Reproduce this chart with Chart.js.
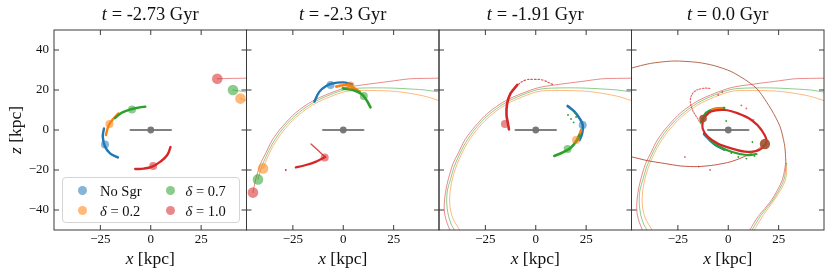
<!DOCTYPE html>
<html>
<head>
<meta charset="utf-8">
<script src="https://cdn.jsdelivr.net/npm/chart.js@4.4.1/dist/chart.umd.min.js"></script>
<style>
  body { margin: 0; width: 831px; height: 274px; overflow: hidden; position: relative; background: #fff;
         font-family: "Liberation Serif", "DejaVu Serif", serif; color: #111; }
  canvas { position: absolute; left: 0; top: 0; }
  .ttl, .xl { position: absolute; text-align: center; white-space: nowrap; line-height: 20px; }
  .ttl { top: 4px; font-size: 18.5px; }
  .xl { top: 248px; font-size: 17.5px; }
  .yl { position: absolute; left: -35px; top: 120px; width: 100px; line-height: 20px; text-align: center;
        font-size: 17.5px; transform: rotate(-90deg); }
  .legend { position: absolute; left: 62px; top: 177px; width: 176px; height: 44px; border: 1px solid #d4d4d4;
            border-radius: 4px; background: rgba(255,255,255,0.85); }
  .li { position: absolute; font-size: 14.5px; line-height: 16px; white-space: nowrap; }
  .dot { position: absolute; width: 9px; height: 9px; border-radius: 50%; }
</style>
</head>
<body>
<script>
// panel layout (px) and axis limits
const PANEL_LEFT = [54, 246.5, 439, 631.5];
const PANEL_W = 192.5;
const X_LIM = [-48, 47.5];
const Y_LIM = [-50, 50];
const X_TICKS = [-25, 0, 25];
const Y_TICKS = [-40, -20, 0, 20, 40];
const TIMES = ['-2.73', '-2.3', '-1.91', '0.0'];

const BLUE = '#1f77b4', ORANGE = '#ff7f0e', GREEN = '#2ca02c', RED = '#d62728';

// Milky Way disk
const DISK = [[-10, 0], [10, 0]];
const CENTER = [[0, 0]];

// Sgr orbits, pieces travelled up to each snapshot
const RED_ORBIT_1 = [[53, 26], [47.5, 25.9], [40, 25.8], [33, 25.6]];
const RED_ORBIT_2 = [[23, 24.3], [10, 22.6], [1.5, 21.2], [-6.8, 18.3], [-15.2, 14.5], [-23.5, 8.7], [-30.2, 1.7],
                     [-35.2, -5], [-38.5, -11.7], [-41, -16.7], [-43.5, -25], [-44.8, -31.3]];
const RED_ORBIT_3 = [[-45.4, -37], [-45.2, -42], [-44, -46.5], [-42.6, -50], [-41.5, -53]];
const RED_ORBIT_4 = [[8.5, -54], [10.7, -50], [14.8, -43.3], [21.5, -35], [26.8, -25], [28.5, -16.7]];

const GREEN_ORBIT_1 = [[53, 18.6], [47.5, 19], [40.8, 20]];
const GREEN_ORBIT_2 = [[35, 20.4], [23, 21], [10, 21], [1.5, 20.3], [-6.8, 17.5], [-15.2, 13.5], [-23.5, 7.5],
                       [-30.1, 0.5], [-34.9, -6.5], [-38.2, -13], [-40.7, -19], [-42.3, -24.7]];
const GREEN_ORBIT_3 = [[-43.8, -30], [-44.2, -36], [-43.5, -42], [-42, -47], [-40, -50.5], [-38.5, -53]];
const GREEN_ORBIT_4 = [[9.5, -54], [11.8, -50], [16, -43], [22.5, -34.5], [27.6, -25], [28.7, -16.7]];

const ORANGE_ORBIT_1 = [[53, 14], [47.5, 14.7], [44.5, 15.7]];
const ORANGE_ORBIT_2 = [[40, 17], [30, 18.8], [23, 19.5], [10, 19.8], [1.5, 19.3], [-6.8, 16.5], [-15.2, 12.5],
                        [-23.5, 6.3], [-30, -0.8], [-34.5, -7.5], [-37.5, -13.5], [-39.8, -19.2]];
const ORANGE_ORBIT_3 = [[-41.5, -25], [-42.6, -32], [-42.6, -38], [-41.2, -44], [-39, -48], [-37.5, -50.5], [-36, -53]];
const ORANGE_ORBIT_4 = [[10.5, -54], [12.9, -50], [17.2, -42.8], [23.5, -34], [28.4, -25], [29, -16.7]];

// recent orbit, same for every delta
const LATE_ORBIT_1 = [[28.6, -16.7], [28.3, -11], [27.8, -6.7], [25.7, 1.7], [21.5, 10], [14.8, 20], [9.8, 24.2],
                      [1.5, 29.2], [-7, 32.2], [-15.2, 33.8], [-26.8, 34.5], [-38.5, 33.3], [-48.5, 30.8], [-53, 29]];
const LATE_ORBIT_2 = [[-53, -12.5], [-48.5, -13.3], [-40.2, -15.3], [-31.8, -16.7], [-23.5, -18], [-15.2, -18.3],
                      [-6.8, -17.5], [1.5, -15.8], [9.8, -12.5], [14.8, -9.5], [18.2, -7]];

// Sgr position per snapshot [orange, green, red]
const SGR_POS = [
  [[44.5, 15.7], [40.8, 20], [33, 25.6]],
  [[-39.8, -19.2], [-42.3, -24.7], [-44.8, -31.3]],
  null,
  [[18.2, -7]]
];

// stream particles, snapshot 1
const S1_BLUE = [[-23.2, 0.8], [-23.8, -3.3], [-22.7, -8.3], [-20.2, -11.7], [-16.3, -13.7]];
const S1_ORANGE = [[-22.2, -2.5], [-21.5, 0.5], [-20.5, 3], [-18.8, 5.3], [-16, 8.3]];
const S1_GREEN = [[-17.7, 6], [-14.3, 8.7], [-9.3, 10.5], [-5.5, 11.3], [-2.7, 11.7]];
const S1_RED = [[9.8, -8.5], [8.2, -12.5], [4.8, -15.8], [0.7, -18.3], [-3.5, -19.3], [-7.7, -19.5]];
const S1_MARK = [[-22.7, -7.2], [-20.5, 3], [-9.3, 10.3], [1.2, -18]];

// snapshot 2
const S2_BLUE = [[-14.3, 14.2], [-11.8, 19.2], [-8.5, 22], [-5.2, 23.3], [-0.2, 23.8], [4.5, 22.8]];
const S2_ORANGE = [[-3.5, 21.7], [1.5, 22.5], [4.8, 21.3], [8.2, 19.2]];
const S2_GREEN = [[-0.2, 20.8], [4.8, 20], [9, 18], [11.5, 15], [13.5, 11.3]];
const S2_RED_ARM = [[-16, -7], [-12.7, -10], [-9, -13.5]];
const S2_RED = [[-9, -13.5], [-13.5, -15.8], [-18.5, -17.5], [-23.5, -18.7]];
const S2_RED_DOTS = [[-28.5, -20]];
const S2_MARK = [[-6.3, 22.5], [3.5, 22.2], [10.2, 17], [-9.2, -13.7]];

// snapshot 3
const S3_BLUE = [[15.8, 12], [19.2, 9.2], [21.7, 5.8], [23.3, 2.5], [23, -1.7], [21.7, -5]];
const S3_ORANGE = [[22.5, 0], [21.3, -3.3], [20, -5.8]];
const S3_GREEN = [[21.7, -2.5], [20, -5.8], [17.5, -8.7], [14.2, -10.8], [9.2, -13]];
const S3_RED_TAIL = [[8.3, 22.8], [3.3, 25], [-0.8, 25.3], [-5, 25], [-9.2, 22.5]];
const S3_RED = [[-9.2, 22.5], [-12.5, 18.3], [-14.2, 13.3], [-14.5, 7.5], [-13.8, 3.3], [-13.3, 0.3]];
const S3_MARK = [[23.3, 2.5], [20, -5], [15.8, -9.5], [-15.3, 3]];
const S3_GREEN_DOTS = [[17.5, 5.5], [16, 7.5], [18.8, 3.8], [20, 6.5], [19.5, 8.5]];

// snapshot 4
const S4_RED = [[-12.5, 5.7], [-8.5, 9.2], [-1.8, 10], [4.8, 8.3], [11.5, 5], [16.5, 0], [19, -5.8], [14.8, -10.3],
                [8.2, -10.8], [1.5, -9.2], [-5.2, -6.7], [-10.2, -3.3], [-12.7, 0.8], [-12.5, 5.7]];
const S4_GREEN_TOP = [[-13.5, 4], [-11, 8.5], [-7, 10.5], [-2, 11]];
const S4_GREEN_BOTTOM = [[-11, -3], [-5, -8], [2, -11], [9, -12.5], [14, -12]];
const S4_BLUE = [[-12, -2], [-7, -7], [-2, -9.8]];
const S4_ORANGE = [[-8, 10.2], [-3, 11]];
const S4_RED_LOOP = [[-13.5, 3], [-16, 7], [-17.7, 10], [-18.8, 15], [-16.8, 19.2], [-12.7, 20.8], [-8.5, 20.8]];
const S4_MARK = [[-12.5, 5.7]];
const S4_GREEN_DOTS = [[1.5, -11.5], [5, -13.5], [9, -14.3], [11.5, -11], [12, -6], [-1, 4.5], [13, -13]];
const S4_RED_DOTS = [[-21.5, -13.5], [-14.7, -18.3], [-9, -20], [6.5, 12.3], [9, 10.8], [-3, 19], [-5, 17.5], [12.5, 5]];

const pts = arr => arr.map(([x, y]) => ({ x, y }));
const alpha = (hex, a) => hex + Math.round(a * 255).toString(16).padStart(2, '0');

function line(arr, color, width, extra) {
  return Object.assign({ data: pts(arr), showLine: true, borderColor: color, borderWidth: width,
    pointRadius: 0, tension: 0.4, borderCapStyle: 'round', fill: false, clip: 0 }, extra || {});
}
function dots(arr, color, r) {
  return { data: pts(arr), showLine: false, pointRadius: r, pointBackgroundColor: color,
    pointBorderWidth: 0, clip: 12 };
}

function panelDatasets(i) {
  const ds = [];
  // orbits
  const orb = [
    [ORANGE_ORBIT_1, ORANGE_ORBIT_2, ORANGE_ORBIT_3, ORANGE_ORBIT_4, ORANGE],
    [GREEN_ORBIT_1, GREEN_ORBIT_2, GREEN_ORBIT_3, GREEN_ORBIT_4, GREEN],
    [RED_ORBIT_1, RED_ORBIT_2, RED_ORBIT_3, RED_ORBIT_4, RED]
  ];
  orb.forEach(o => {
    const past = [].concat(...o.slice(0, Math.min(i, 2) + 1));
    ds.push(line(past, alpha(o[4], 0.6), 0.9, { tension: 0.3 }));
    if (i === 3) ds.push(line(o[3], alpha(o[4], 0.6), 0.9, { tension: 0.3 }));
  });
  if (i === 3) {
    ds.push(line(LATE_ORBIT_1, 'rgba(170,80,45,0.85)', 1, { tension: 0.25 }));
    ds.push(line(LATE_ORBIT_2, 'rgba(185,60,40,0.85)', 1, { tension: 0.25 }));
  }
  // streams
  if (i === 0) {
    ds.push(line(S1_BLUE, BLUE, 2.4), line(S1_ORANGE, ORANGE, 2.4), line(S1_GREEN, GREEN, 2.4), line(S1_RED, RED, 2.4));
    ds.push(dots(S1_MARK.slice(0, 1), alpha(BLUE, 0.55), 4), dots(S1_MARK.slice(1, 2), alpha(ORANGE, 0.55), 4),
            dots(S1_MARK.slice(2, 3), alpha(GREEN, 0.55), 4), dots(S1_MARK.slice(3, 4), alpha(RED, 0.55), 4));
  } else if (i === 1) {
    ds.push(line(S2_BLUE, BLUE, 2.4), line(S2_ORANGE, ORANGE, 2.6), line(S2_GREEN, GREEN, 2.6));
    ds.push(line(S2_RED_ARM, alpha(RED, 0.85), 1.3, { tension: 0.2 }), line(S2_RED, RED, 2.3, { tension: 0.2 }));
    ds.push(dots(S2_RED_DOTS, RED, 0.9));
    ds.push(dots(S2_MARK.slice(0, 1), alpha(BLUE, 0.55), 4), dots(S2_MARK.slice(1, 2), alpha(ORANGE, 0.55), 4),
            dots(S2_MARK.slice(2, 3), alpha(GREEN, 0.55), 4), dots(S2_MARK.slice(3, 4), alpha(RED, 0.55), 4));
  } else if (i === 2) {
    ds.push(line(S3_RED_TAIL, alpha(RED, 0.8), 1.2, { borderDash: [1.5, 2] }));
    ds.push(line(S3_BLUE, BLUE, 2.6), line(S3_ORANGE, ORANGE, 2.6), line(S3_GREEN, GREEN, 2.6), line(S3_RED, RED, 2.6));
    ds.push(dots(S3_GREEN_DOTS, GREEN, 0.9));
    ds.push(dots(S3_MARK.slice(0, 1), alpha(BLUE, 0.55), 4), dots(S3_MARK.slice(1, 2), alpha(ORANGE, 0.55), 4),
            dots(S3_MARK.slice(2, 3), alpha(GREEN, 0.55), 4), dots(S3_MARK.slice(3, 4), alpha(RED, 0.55), 4));
  } else {
    ds.push(line(S4_RED_LOOP, alpha(RED, 0.7), 1.1, { borderDash: [1.5, 1.5] }));
    ds.push(line(S4_BLUE, BLUE, 2.6), line(S4_GREEN_TOP, GREEN, 2.6), line(S4_GREEN_BOTTOM, GREEN, 2.2),
            line(S4_ORANGE, ORANGE, 2.2), line(S4_RED, RED, 2.2, { tension: 0.35 }));
    ds.push(dots(S4_GREEN_DOTS, GREEN, 0.9), dots(S4_RED_DOTS, alpha(RED, 0.7), 0.9));
    ds.push(dots(S4_MARK, 'rgba(160,80,45,0.9)', 3.8));
  }
  // Sgr markers
  if (SGR_POS[i]) {
    if (i === 3) ds.push(dots(SGR_POS[3], 'rgba(160,80,45,0.9)', 5.2));
    else [ORANGE, GREEN, RED].forEach((c, k) => ds.push(dots([SGR_POS[i][k]], alpha(c, 0.55), 5.3)));
  }
  // disk
  ds.push(line(DISK, 'rgba(115,115,115,0.9)', 2.2, { tension: 0 }));
  ds.push(dots(CENTER, 'rgba(115,115,115,0.95)', 3.4));
  // later entries on top
  ds.forEach((d, k) => { d.order = ds.length - k; });
  return ds;
}

const framePlugin = {
  id: 'frame',
  afterDraw(chart) {
    const { ctx, chartArea: a, scales: { x, y } } = chart;
    ctx.save();
    ctx.strokeStyle = '#3a3a3a';
    ctx.lineWidth = 1;
    ctx.strokeRect(a.left, a.top, a.right - a.left, a.bottom - a.top);
    ctx.beginPath();
    X_TICKS.forEach(v => {
      const px = x.getPixelForValue(v);
      ctx.moveTo(px, a.top); ctx.lineTo(px, a.top + 5);
      ctx.moveTo(px, a.bottom); ctx.lineTo(px, a.bottom - 5);
    });
    Y_TICKS.forEach(v => {
      const py = y.getPixelForValue(v);
      ctx.moveTo(a.left, py); ctx.lineTo(a.left + 5, py);
      ctx.moveTo(a.right, py); ctx.lineTo(a.right - 5, py);
    });
    ctx.stroke();
    ctx.restore();
  }
};

const fmt = v => String(v).replace('-', '\u2212');
const tickFont = { family: '"Liberation Serif", serif', size: 13 };

function makePanel(i) {
  const canvas = document.createElement('canvas');
  canvas.width = 831;
  canvas.height = 274;
  document.body.appendChild(canvas);
  const left = PANEL_LEFT[i];
  const yW = i === 0 ? 30 : 0;
  new Chart(canvas, {
    type: 'scatter',
    data: { datasets: panelDatasets(i) },
    options: {
      responsive: false,
      animation: false,
      events: [],
      layout: { padding: { left: left - yW, right: 831 - left - PANEL_W, top: 30, bottom: 274 - 230 - 20 } },
      plugins: { legend: { display: false }, tooltip: { enabled: false } },
      scales: {
        x: {
          type: 'linear', min: X_LIM[0], max: X_LIM[1],
          grid: { display: false, drawTicks: false }, border: { display: false },
          afterBuildTicks: s => { s.ticks = X_TICKS.map(v => ({ value: v })); },
          afterFit: s => { s.height = 20; },
          ticks: { padding: 2, color: '#111', font: tickFont, maxRotation: 0, autoSkip: false, callback: fmt }
        },
        y: {
          type: 'linear', min: Y_LIM[0], max: Y_LIM[1], display: i === 0,
          grid: { display: false, drawTicks: false }, border: { display: false },
          afterBuildTicks: s => { s.ticks = Y_TICKS.map(v => ({ value: v })); },
          afterFit: s => { s.width = yW; },
          ticks: { padding: 5, color: '#111', font: tickFont, autoSkip: false, callback: fmt }
        }
      }
    },
    plugins: [framePlugin]
  });
}

for (let i = 0; i < 4; i++) makePanel(i);

// titles and axis labels
TIMES.forEach((t, i) => {
  const ttl = document.createElement('div');
  ttl.className = 'ttl';
  ttl.style.left = PANEL_LEFT[i] + 'px';
  ttl.style.width = PANEL_W + 'px';
  ttl.innerHTML = '<i>t</i> = ' + t + ' Gyr';
  document.body.appendChild(ttl);
  const xl = document.createElement('div');
  xl.className = 'xl';
  xl.style.left = PANEL_LEFT[i] + 'px';
  xl.style.width = PANEL_W + 'px';
  xl.innerHTML = '<i>x</i> [kpc]';
  document.body.appendChild(xl);
});
const yl = document.createElement('div');
yl.className = 'yl';
yl.innerHTML = '<i>z</i> [kpc]';
document.body.appendChild(yl);

// legend
const LEGEND_LABELS = ['No Sgr', '<i>\u03b4</i> = 0.2', '<i>\u03b4</i> = 0.7', '<i>\u03b4</i> = 1.0'];
const LEGEND_COLORS = [BLUE, ORANGE, GREEN, RED];
const leg = document.createElement('div');
leg.className = 'legend';
document.body.appendChild(leg);
LEGEND_LABELS.forEach((lab, k) => {
  const col = Math.floor(k / 2), row = k % 2;
  const cx = col ? 170 : 82.3, cy = row ? 210.7 : 190.7;
  const d = document.createElement('div');
  d.className = 'dot';
  d.style.left = (cx - 4.5) + 'px';
  d.style.top = (cy - 4.5) + 'px';
  d.style.background = alpha(LEGEND_COLORS[k], 0.55);
  document.body.appendChild(d);
  const t = document.createElement('div');
  t.className = 'li';
  t.style.left = (col ? 185.5 : 100) + 'px';
  t.style.top = (cy - 8) + 'px';
  t.innerHTML = lab;
  document.body.appendChild(t);
});
</script>
</body>
</html>
